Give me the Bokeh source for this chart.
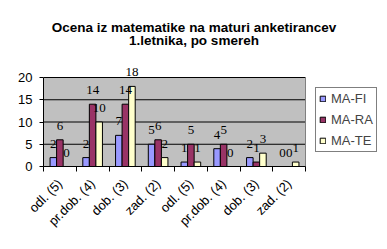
import math
from bokeh.plotting import figure
from bokeh.models import (ColumnDataSource, FixedTicker, Label, LabelSet, Legend,
                          LegendItem, Range1d)
from bokeh.embed import file_html
from bokeh.resources import INLINE

# Grade categories (two programme blocks of four grades each)
categories = ["odl. (5)", "pr.dob. (4)", "dob. (3)", "zad. (2)",
              "odl. (5)", "pr.dob. (4)", "dob. (3)", "zad. (2)"]
series_names = ["MA-FI", "MA-RA", "MA-TE"]
ma_fi = [2, 2, 7, 5, 1, 4, 2, 0]
ma_ra = [6, 14, 14, 6, 5, 5, 1, 0]
ma_te = [0, 10, 18, 2, 1, 0, 3, 1]
y_ticks = [0, 5, 10, 15, 20]
title_lines = ["Ocena iz matematike na maturi anketirancev", "1.letnika, po smereh"]

colors = ["#9999FF", "#993366", "#FFFFCC"]
offsets = [-0.2, 0.0, 0.2]
FONT = "Liberation Sans"

# Page geometry (pixels): the drawing frame runs from the y-axis to the right
# edge and from the top edge down to the x-axis, so titles, value labels and
# the legend all live inside it.
W, H = 387, 249
LEFT, BOTTOM = 43, 83                 # axis panels
PLOT_RIGHT_PX, PLOT_TOP_PX = 305, 77  # right / top edge of the grey plot area
N = len(categories)
Y_MAX = y_ticks[-1]
px_x = (PLOT_RIGHT_PX - LEFT) / N
px_y = (H - BOTTOM - PLOT_TOP_PX) / Y_MAX
x_end = (W - LEFT) / px_x
y_end = (H - BOTTOM) / px_y

p = figure(width=W, height=H, output_backend="svg", toolbar_location=None,
           title=None, x_range=Range1d(0, x_end), y_range=Range1d(0, y_end),
           min_border_left=LEFT, min_border_right=0, min_border_top=0,
           min_border_bottom=BOTTOM, background_fill_color="white",
           border_fill_color="white", outline_line_color=None)
p.xgrid.grid_line_color = None
p.ygrid.grid_line_color = None

# Grey plot area, grid lines and its right border
p.quad(left=[0], right=[N], bottom=[0], top=[Y_MAX], fill_color="#C0C0C0", line_color=None)
p.segment(x0=[0] * len(y_ticks), x1=[N] * len(y_ticks), y0=y_ticks, y1=y_ticks,
          line_color="black", line_width=1)
p.segment(x0=[N], x1=[N], y0=[0], y1=[Y_MAX], line_color="#808080", line_width=1)

# Axes
centers = [i + 0.5 for i in range(N)]
p.xaxis.bounds = (0, N)
p.xaxis.ticker = FixedTicker(ticks=centers, minor_ticks=list(range(N + 1)))
p.xaxis.major_label_overrides = {c: lab for c, lab in zip(centers, categories)}
p.xaxis.major_label_orientation = math.pi / 4
p.xaxis.major_tick_out = 0
p.xaxis.major_tick_in = 0
p.xaxis.minor_tick_out = 5
p.xaxis.minor_tick_in = 0
p.xaxis.minor_tick_line_color = "black"
p.xaxis.axis_line_color = "black"
p.xaxis.major_label_text_font = FONT
p.xaxis.major_label_text_font_size = "13px"
p.xaxis.major_label_text_color = "black"
p.xaxis.major_label_standoff = 10

p.yaxis.bounds = (0, Y_MAX)
p.yaxis.ticker = FixedTicker(ticks=y_ticks)
p.yaxis.major_tick_out = 4
p.yaxis.major_tick_in = 0
p.yaxis.minor_tick_line_color = None
p.yaxis.axis_line_color = "black"
p.yaxis.major_tick_line_color = "black"
p.yaxis.major_label_text_font = FONT
p.yaxis.major_label_text_font_size = "13px"
p.yaxis.major_label_text_color = "black"
p.yaxis.major_label_standoff = 7

# Bars and value labels
legend_items = []
for name, vals, color, off in zip(series_names, [ma_fi, ma_ra, ma_te], colors, offsets):
    src = ColumnDataSource(dict(x=[c + off for c in centers], top=vals,
                                lab=[str(v) for v in vals]))
    r = p.vbar(x="x", top="top", width=0.2, source=src, fill_color=color,
               line_color="black", line_width=1)
    p.add_layout(LabelSet(x="x", y="top", text="lab", source=src, text_align="center",
                          text_baseline="alphabetic", y_offset=10, text_font=FONT,
                          text_font_size="13px", text_color="black"))
    legend_items.append(LegendItem(label=name, renderers=[r]))

# Two-line centred title
title_x = (W / 2 - LEFT) / px_x
for line, baseline_px in zip(title_lines, [27, 40]):
    p.add_layout(Label(x=title_x, y=(H - BOTTOM - baseline_px) / px_y, text=line,
                       text_align="center", text_baseline="alphabetic",
                       text_font=FONT, text_font_size="13.5px",
                       text_font_style="bold", text_color="black"))

legend = Legend(items=legend_items, location=(315 - LEFT, H - BOTTOM - 152),
                glyph_width=7, glyph_height=7,
                label_text_font=FONT, label_text_font_size="13px",
                label_height=15, label_standoff=5, spacing=6, padding=3,
                margin=0, border_line_color="black", border_line_width=1,
                background_fill_color="white", background_fill_alpha=1.0)
p.add_layout(legend, "center")

open("out.html", "w").write(file_html(p, INLINE))
